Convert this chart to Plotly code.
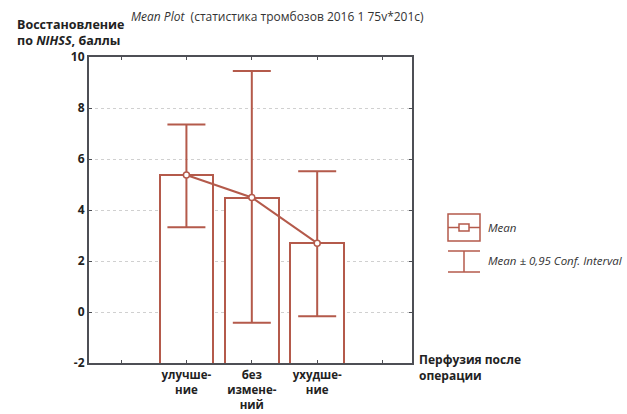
import plotly.graph_objects as go

categories = ["улучше-<br>ние", "без<br>измене-<br>ний", "ухудше-<br>ние"]
positions = [1, 2, 3]
means = [5.37, 4.49, 2.70]
ci_upper = [7.35, 9.45, 5.52]
ci_lower = [3.32, -0.42, -0.17]

y_ticks = [-2, 0, 2, 4, 6, 8, 10]
x_ticks = [0, 1, 2, 3, 4]

col = "#b45a4b"
axis_col = "#4d4f55"
font = "Open Sans"

err_plus = [u - m for u, m in zip(ci_upper, means)]
err_minus = [m - l for m, l in zip(means, ci_lower)]
bar_base = -3

fig = go.Figure()
fig.add_trace(go.Bar(
    x=positions, y=[m - bar_base for m in means], base=[bar_base] * len(means),
    width=0.82, marker=dict(color="white", line=dict(color=col, width=2)),
    showlegend=False, hoverinfo="skip",
))
fig.add_trace(go.Scatter(
    x=positions, y=means, mode="lines+markers",
    line=dict(color=col, width=2),
    marker=dict(symbol="circle", size=6, color="white", line=dict(color=col, width=1.5)),
    error_y=dict(type="data", symmetric=False, array=err_plus, arrayminus=err_minus,
                 color=col, thickness=2, width=19),
    showlegend=False,
))

pl, pr, pt, pb = 89, 412, 57, 363
fig.update_layout(
    width=627, height=414,
    margin=dict(l=pl, r=627 - pr, t=pt, b=414 - pb, autoexpand=False),
    plot_bgcolor="white", paper_bgcolor="white",
    font=dict(family=font, size=12, color="#222"),
    bargap=0,
)
fig.update_xaxes(
    range=[-0.49, 4.45], tickvals=x_ticks, ticktext=["", categories[0], categories[1], categories[2], ""],
    showgrid=False, showline=True, linecolor=axis_col, linewidth=2, mirror="ticks",
    ticks="inside", ticklen=3, tickcolor=axis_col, automargin=False,
    tickfont=dict(family=font, size=11.5, color="#222", weight="bold"), zeroline=False,
)
fig.update_yaxes(
    range=[-2, 10], tickvals=y_ticks, ticktext=[str(v) for v in y_ticks],
    showgrid=True, gridcolor="#d0d0d0", griddash="dot", gridwidth=1,
    showline=True, linecolor=axis_col, linewidth=2, mirror="ticks",
    ticks="inside", ticklen=3, tickcolor=axis_col, automargin=False,
    tickfont=dict(family=font, size=12, color="#222", weight="bold"), zeroline=False,
)

def pp(xp, yp):
    return dict(x=(xp - pl) / (pr - pl), y=(pb - yp) / (pb - pt), xref="paper", yref="paper", showarrow=False)

fig.add_annotation(**pp(129, 16), text="<i>Mean Plot</i>  (статистика тромбозов 2016 1 75v*201c)",
                   xanchor="left", yanchor="middle", font=dict(size=12, color="#333"))
fig.add_annotation(**pp(16, 32), text="<b>Восстановление<br>по <i>NIHSS</i>, баллы</b>",
                   xanchor="left", yanchor="middle", align="left", borderpad=0,
                   font=dict(size=12.5, color="#222"))
fig.add_annotation(**pp(417, 367), text="<b>Перфузия после<br>операции</b>",
                   xanchor="left", yanchor="middle", align="left", font=dict(size=12, color="#222"))

def shp(x0, y0, x1, y1, kind="line"):
    return dict(type=kind, xref="paper", yref="paper",
                x0=(x0 - pl) / (pr - pl), x1=(x1 - pl) / (pr - pl),
                y0=(pb - y0) / (pb - pt), y1=(pb - y1) / (pb - pt),
                line=dict(color=col, width=1.5), fillcolor="rgba(0,0,0,0)")

fig.add_shape(**shp(448, 214, 480, 241, "rect"))
fig.add_shape(**shp(448, 227.5, 459, 227.5))
fig.add_shape(**shp(469, 227.5, 480, 227.5))
fig.add_shape(**shp(459, 224, 469, 231, "rect"))
fig.add_shape(**shp(448, 251, 480, 251))
fig.add_shape(**shp(448, 272, 480, 272))
fig.add_shape(**shp(464, 251, 464, 272))
fig.add_annotation(**pp(486, 227), text="<i>Mean</i>", xanchor="left", yanchor="middle",
                   font=dict(size=11.5, color="#333"))
fig.add_annotation(**pp(486, 260), text="<i>Mean ± 0,95 Conf. Interval</i>", xanchor="left", yanchor="middle",
                   font=dict(size=11.5, color="#333"))

fig.write_html("out.html", config={"displayModeBar": False},
               post_script="document.body.style.margin='0';document.body.style.overflow='hidden';")
